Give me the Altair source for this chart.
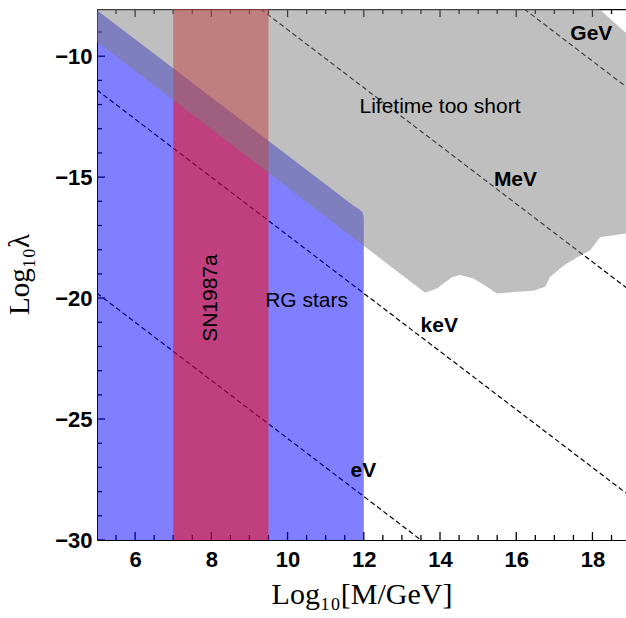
import altair as alt
import pandas as pd

# ---- data ----
# dashed energy-scale lines (two end points each)
line_name = ["eV", "eV", "keV", "keV", "MeV", "MeV", "GeV", "GeV"]
line_x = [5.0, 13.5, 5.0, 18.88, 9.29, 18.88, 16.21, 18.88]
line_y = [-19.8, -30.0, -11.4, -28.06, -8.05, -19.56, -8.05, -11.26]

# RG stars excluded region (upper boundary, filled down to -30)
rg_x = [5.0, 11.75, 11.88, 11.95, 11.99, 12.0]
rg_top = [-8.1, -16.2, -16.33, -16.43, -16.56, -16.75]
rg_bottom = [-30.0] * len(rg_x)

# SN1987a band
sn_x0 = [7.0]
sn_x1 = [9.5]
sn_y0 = [-30.0]
sn_y1 = [-8.05]

# "Lifetime too short" region: lower and upper boundary
life_x = [5.0, 13.61, 13.92, 14.31, 14.53, 14.88, 15.23, 15.49, 16.02, 16.45,
          16.76, 16.89, 17.20, 17.33, 17.59, 17.94, 18.18, 18.20, 18.55, 18.88]
life_low = [-9.4, -19.78, -19.60, -19.14, -19.05, -19.19, -19.53, -19.81, -19.74, -19.70,
            -19.53, -19.12, -18.71, -18.57, -18.32, -18.02, -17.53, -17.49, -17.40, -17.33]
life_high = [-8.05, -8.05, -8.05, -8.05, -8.05, -8.05, -8.05, -8.05, -8.05, -8.05,
             -8.05, -8.05, -8.05, -8.05, -8.05, -8.05, -8.05, -8.08, -8.58, -9.04]

# annotations
bold_text = ["GeV", "MeV", "keV", "eV"]
bold_x = [17.97, 15.98, 13.98, 11.99]
bold_y = [-9.34, -15.37, -21.39, -27.38]
plain_text = ["Lifetime too short", "RG stars"]
plain_x = [14.0, 10.5]
plain_y = [-12.35, -20.37]
rot_text = ["SN1987a"]
rot_x = [8.0]
rot_y = [-20.0]

# ticks
x_major = [6, 8, 10, 12, 14, 16, 18]
x_minor = [5.5, 6.5, 7, 7.5, 8.5, 9, 9.5, 10.5, 11, 11.5, 12.5, 13, 13.5,
           14.5, 15, 15.5, 16.5, 17, 17.5, 18.5]
y_major = [-30, -25, -20, -15, -10]
y_minor = [-29, -28, -27, -26, -24, -23, -22, -21, -19, -18, -17, -16,
           -14, -13, -12, -11, -9]

# ---- chart ----
W, H = 529, 531
X0, X1 = 5.0, 18.88
Y0, Y1 = -30.0, -8.05
PX_X = W / (X1 - X0)   # pixels per x unit
PX_Y = H / (Y1 - Y0)   # pixels per y unit

xscale = alt.Scale(domain=[X0, X1], nice=False, zero=False)
yscale = alt.Scale(domain=[Y0, Y1], nice=False, zero=False)
xaxis = alt.Axis(title="Log₁₀[M/GeV]", values=x_major, format="d", titleX=W / 2,
                 titleY=63, titleBaseline="alphabetic", titleAlign="center", labelPadding=9,
                 titleFontSize=30)
yaxis = alt.Axis(title="Log₁₀λ", values=y_major, format="d", titleX=-69, titleY=265,
                 titleAngle=270, titleBaseline="alphabetic", titleAlign="center", labelPadding=5,
                 titleFontSize=29)


def X(f):
    return alt.X(f, type="quantitative", scale=xscale, axis=xaxis)


def Y(f):
    return alt.Y(f, type="quantitative", scale=yscale, axis=yaxis)


# ---- inward ticks and top frame, drawn as short two-point dashed-free segments ----
seg_name, seg_x, seg_y = [], [], []
for vals, length_px, tag in [(x_major, 8, "xM"), (x_minor, 5, "xm")]:
    L = length_px / PX_Y
    for v in vals:
        seg_name += [f"{tag}b{v}", f"{tag}b{v}", f"{tag}t{v}", f"{tag}t{v}"]
        seg_x += [v, v, v, v]
        seg_y += [Y0, Y0 + L, Y1, Y1 - L]
for vals, length_px, tag in [(y_major, 8, "yM"), (y_minor, 5, "ym")]:
    L = length_px / PX_X
    for v in vals:
        seg_name += [f"{tag}{v}", f"{tag}{v}"]
        seg_x += [X0, X0 + L]
        seg_y += [v, v]
seg_name += ["frame", "frame"]
seg_x += [X0, X1]
seg_y += [Y1 - 0.6 / PX_Y, Y1 - 0.6 / PX_Y]
ticks_df = pd.DataFrame({"name": seg_name, "x": seg_x, "y": seg_y})
ticks = alt.Chart(ticks_df).mark_line(color="black", strokeWidth=1.3, clip=True).encode(
    x=X("x"), y=Y("y"), detail="name:N")

lines_df = pd.DataFrame({"name": line_name, "x": line_x, "y": line_y})
lines = alt.Chart(lines_df).mark_line(color="black", strokeWidth=1.2, strokeDash=[5, 3], clip=True).encode(
    x=X("x"), y=Y("y"), detail="name:N")

rg_df = pd.DataFrame({"x": rg_x, "top": rg_top, "bot": rg_bottom})
blue = alt.Chart(rg_df).mark_area(color="#0000FF", opacity=0.5, clip=True).encode(
    x=X("x"), y=Y("bot"), y2="top")

sn_df = pd.DataFrame({"x0": sn_x0, "x1": sn_x1, "y0": sn_y0, "y1": sn_y1})
red = alt.Chart(sn_df).mark_rect(color="#FF0000", opacity=0.5).encode(
    x=X("x0"), x2="x1", y=Y("y0"), y2="y1")

life_df = pd.DataFrame({"x": life_x, "low": life_low, "high": life_high})
gray = alt.Chart(life_df).mark_area(color="#808080", opacity=0.5, clip=True).encode(
    x=X("x"), y=Y("low"), y2="high")

bold_df = pd.DataFrame({"t": bold_text, "x": bold_x, "y": bold_y})
txt_bold = alt.Chart(bold_df).mark_text(font="Liberation Sans", fontSize=21, fontWeight="bold",
                                        align="center", baseline="alphabetic", color="black").encode(
    x=X("x"), y=Y("y"), text="t:N")

plain_df = pd.DataFrame({"t": plain_text, "x": plain_x, "y": plain_y})
txt_plain = alt.Chart(plain_df).mark_text(font="Liberation Sans", fontSize=21,
                                          align="center", baseline="alphabetic", color="black").encode(
    x=X("x"), y=Y("y"), text="t:N")

rot_df = pd.DataFrame({"t": rot_text, "x": rot_x, "y": rot_y})
txt_rot = alt.Chart(rot_df).mark_text(font="Liberation Sans", fontSize=21, angle=270,
                                      align="center", baseline="middle", color="black").encode(
    x=X("x"), y=Y("y"), text="t:N")

layers = [ticks, lines, blue, red, gray, txt_bold, txt_plain, txt_rot]

chart = alt.layer(*layers).properties(
    width=W, height=H,
    autosize=alt.AutoSizeParams(type="none"),
    padding={"left": 97, "top": 9, "right": 0, "bottom": 78},
).configure_view(stroke=None).configure_axis(
    grid=False, ticks=False, tickSize=0,
    domainColor="black", domainWidth=1,
    labelFont="Liberation Sans", labelFontWeight="bold", labelFontSize=22, labelColor="black",
    titleFont="Liberation Serif", titleFontWeight="normal", titleColor="black",
)

chart.save("out.html", embed_options={"renderer": "svg", "actions": False})
